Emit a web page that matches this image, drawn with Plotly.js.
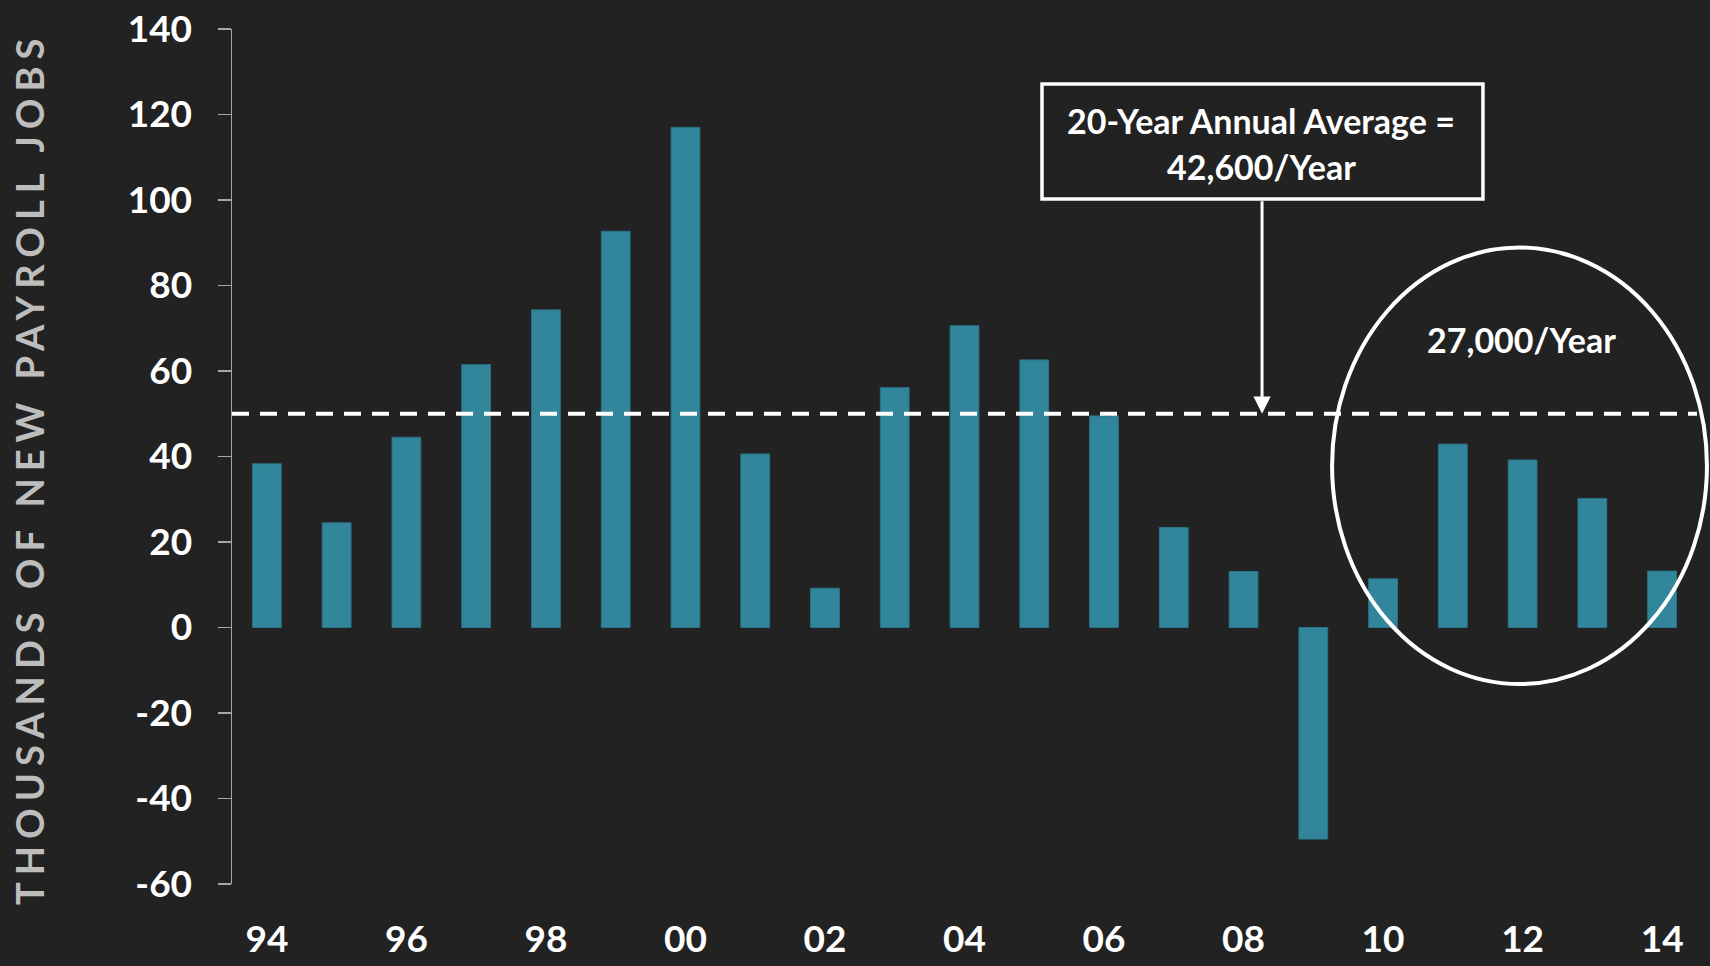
<!DOCTYPE html>
<html>
<head>
<meta charset="utf-8">
<script src="https://cdn.plot.ly/plotly-3.0.1.min.js"></script>
<style>
  html, body { margin: 0; padding: 0; background: #222222; }
  #chart { width: 1710px; height: 966px; }
  g.annotation[data-index="0"] text { letter-spacing: 7px; }
</style>
</head>
<body>
<div id="chart"></div>
<script>
// ---- data ----
const years = ['94','95','96','97','98','99','00','01','02','03','04','05','06','07','08','09','10','11','12','13','14'];
const newJobs = [38.3, 24.5, 44.5, 61.5, 74.3, 92.7, 117.0, 40.6, 9.2, 56.1, 70.6, 62.6, 49.5, 23.4, 13.1, -49.5, 11.4, 42.9, 39.2, 30.2, 13.2];
const tickYears = ['94','96','98','00','02','04','06','08','10','12','14'];
const yTicks = [-60, -40, -20, 0, 20, 40, 60, 80, 100, 120, 140];
const yTickLabels = ['-60', '-40', '-20', '0', '20', '40', '60', '80', '100', '120', '140'];
const averageLevel = 50;
const yMin = -60, yMax = 140;
const yTitle = 'THOUSANDS OF NEW PAYROLL JOBS';
const boxLines = ['20-Year Annual Average =', '42,600/Year'];
const recentLabel = '27,000/Year';

// ---- styles ----
const BG = '#222222';
const BAR = '#31869b';
const AXIS = '#a6a6a6';
const FONT = 'Lato, "Open Sans", sans-serif';
const tickFont = { family: FONT, size: 37, color: '#ffffff', weight: 700 };
const noteFont = { family: FONT, size: 34, color: '#ffffff', weight: 700 };
const titleFont = { family: FONT, size: 38, color: '#bdbdbd', weight: 700 };

const trace = {
  type: 'bar',
  x: years,
  y: newJobs,
  marker: { color: BAR, line: { color: '#2a7284', width: 1 } },
  hoverinfo: 'x+y'
};

const zeroPos = (0 - yMin) / (yMax - yMin);

const layout = {
  width: 1710,
  height: 966,
  margin: { l: 232, r: 13, t: 29, b: 82, pad: 0 },
  paper_bgcolor: BG,
  plot_bgcolor: BG,
  showlegend: false,
  bargap: 0.587,
  xaxis: {
    type: 'category',
    categoryorder: 'array',
    categoryarray: years,
    range: [-0.5, years.length - 0.5],
    tickmode: 'array',
    tickvals: tickYears,
    ticktext: tickYears,
    showline: false,
    ticks: '',
    showgrid: false,
    zeroline: false,
    tickfont: tickFont,
    ticklabelstandoff: 30,
    fixedrange: true
  },
  xaxis2: {
    overlaying: 'x',
    anchor: 'free',
    position: zeroPos,
    type: 'linear',
    range: [-0.5, years.length - 0.5],
    tick0: -0.5,
    dtick: 1,
    ticks: 'outside',
    ticklen: 14,
    tickwidth: 1.5,
    tickcolor: AXIS,
    showline: true,
    linecolor: AXIS,
    linewidth: 1.5,
    showticklabels: false,
    showgrid: false,
    zeroline: false,
    fixedrange: true
  },
  yaxis: {
    range: [yMin, yMax],
    tickmode: 'array',
    tickvals: yTicks,
    ticktext: yTickLabels,
    ticks: 'outside',
    ticklen: 13,
    tickwidth: 1.5,
    tickcolor: AXIS,
    showline: true,
    linecolor: AXIS,
    linewidth: 1.5,
    showgrid: false,
    zeroline: false,
    tickfont: tickFont,
    ticklabelstandoff: 18,
    automargin: false,
    fixedrange: true
  },
  shapes: [
    { type: 'line', xref: 'paper', yref: 'y', x0: 0, x1: 1, y0: averageLevel, y1: averageLevel,
      line: { color: '#ffffff', width: 4, dash: '17px,11px' }, layer: 'above' },
    { type: 'rect', xref: 'paper', yref: 'paper', x0: 0.5529, x1: 0.8539, y0: 0.8012, y1: 0.9357,
      line: { color: '#ffffff', width: 3.5 }, fillcolor: 'rgba(0,0,0,0)', layer: 'above' },
    { type: 'circle', xref: 'paper', yref: 'paper', x0: 0.7509, x1: 1.0068, y0: 0.2339, y1: 0.7444,
      line: { color: '#ffffff', width: 4 }, fillcolor: 'rgba(0,0,0,0)', layer: 'above' }
  ],
  annotations: [
    { xref: 'paper', yref: 'paper', x: -0.1385, y: 0.486, text: yTitle, textangle: -90, showarrow: false,
      xanchor: 'center', yanchor: 'middle', font: titleFont },
    { xref: 'paper', yref: 'paper', x: 0.7027, y: 0.893, text: boxLines[0], showarrow: false,
      xanchor: 'center', yanchor: 'middle', font: noteFont },
    { xref: 'paper', yref: 'paper', x: 0.7027, y: 0.8386, text: boxLines[1], showarrow: false,
      xanchor: 'center', yanchor: 'middle', font: noteFont },
    { xref: 'paper', yref: 'paper', x: 0.8799, y: 0.6374, text: recentLabel, showarrow: false,
      xanchor: 'center', yanchor: 'middle', font: noteFont },
    { xref: 'paper', yref: 'y', x: 0.7031, y: averageLevel, text: '', showarrow: true,
      ax: 0, ay: -214, arrowcolor: '#ffffff', arrowwidth: 3, arrowhead: 2, arrowsize: 1.15 }
  ]
};

Plotly.newPlot('chart', [trace], layout, { displayModeBar: false, staticPlot: true });
</script>
</body>
</html>
